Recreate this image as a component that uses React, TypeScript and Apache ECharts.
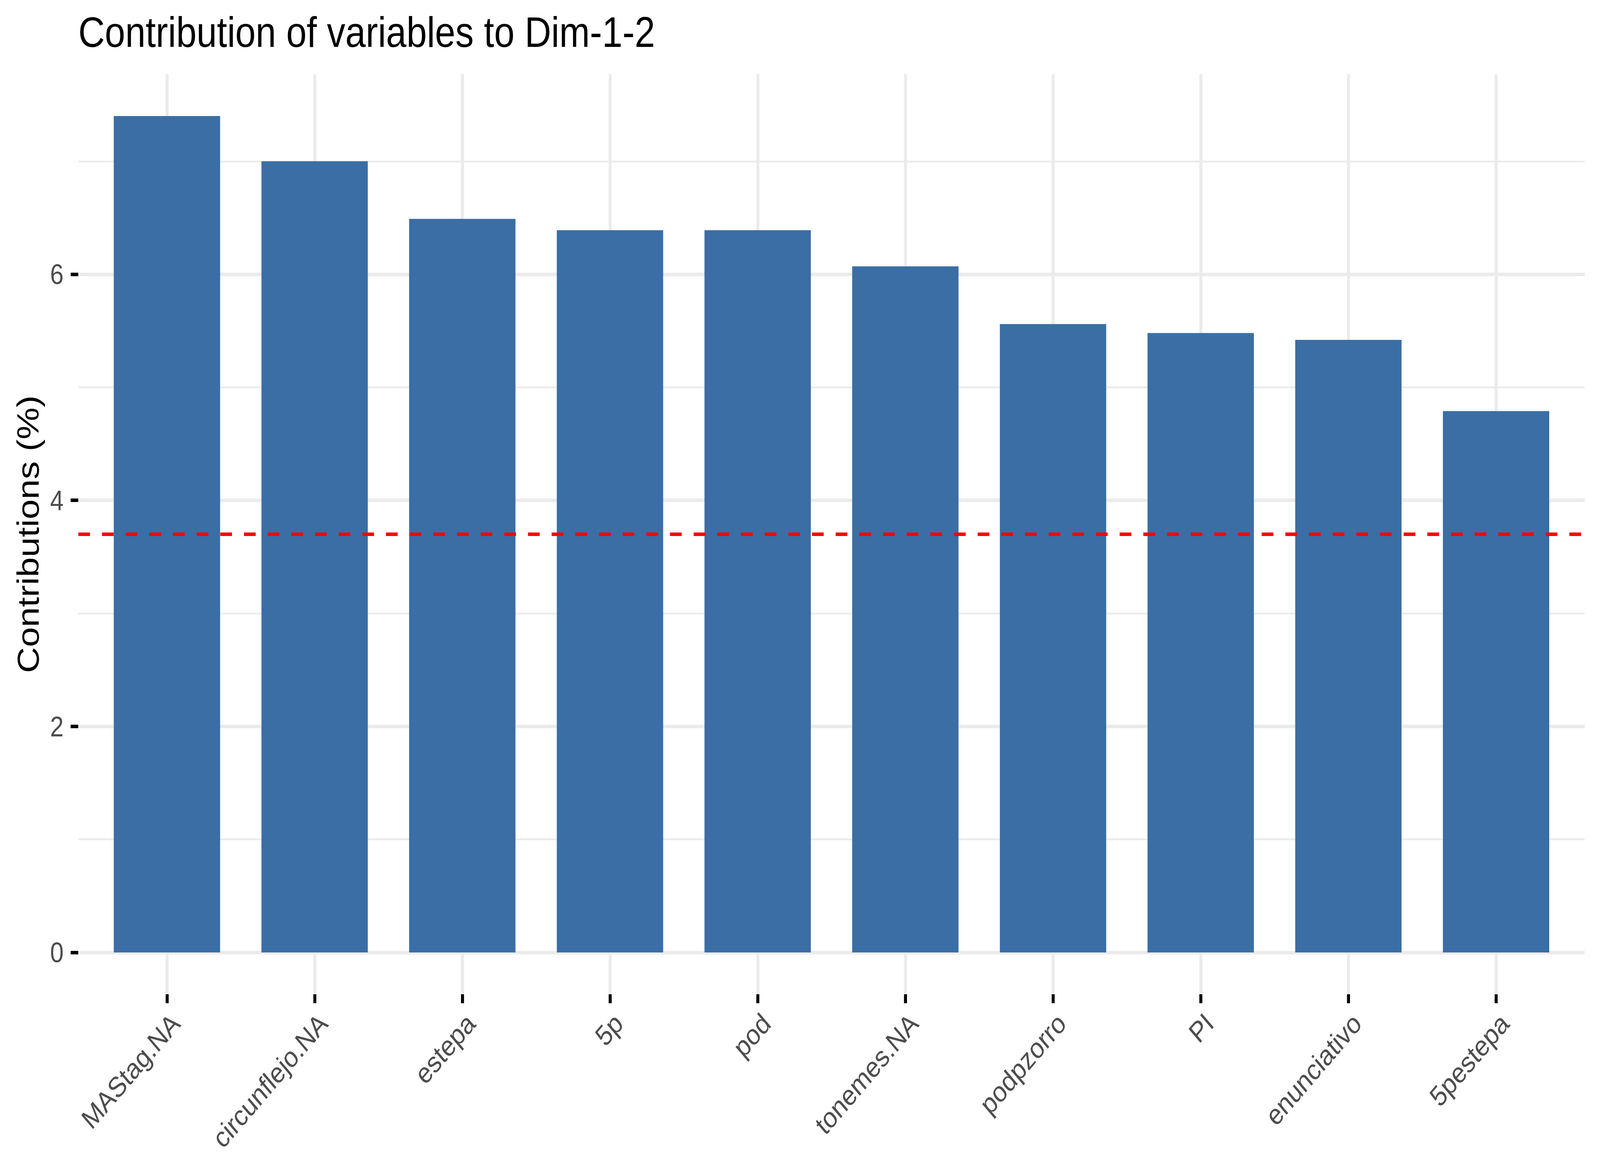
import React, { useEffect, useRef, useState } from "react";
import * as echarts from "echarts";

const categories = [
  "MAStag.NA",
  "circunflejo.NA",
  "estepa",
  "5p",
  "pod",
  "tonemes.NA",
  "podpzorro",
  "PI",
  "enunciativo",
  "5pestepa",
];
const contributions = [7.4, 7.0, 6.49, 6.39, 6.39, 6.07, 5.56, 5.48, 5.42, 4.79];
const expectedContribution = 3.7;
const yMajorTicks = [0, 2, 4, 6];
const yMinorTicks = [1, 3, 5, 7];
const titleText = "Contribution of variables to Dim-1-2";
const yAxisTitle = "Contributions (%)";

const FONT = "'Liberation Sans', Arial, Helvetica, sans-serif";
const BAR_COLOR = "#3A6EA5";
const GRID_COLOR = "#EBEBEB";

const DESIGN_W = 4800;
const DESIGN_H = 3000;

export default function App() {
  const ref = useRef<HTMLDivElement>(null);
  const [scale, setScale] = useState<[number, number]>(() => [
    Math.min(1, window.innerWidth / DESIGN_W),
    Math.min(1, window.innerHeight / DESIGN_H),
  ]);

  useEffect(() => {
    const onResize = () =>
      setScale([Math.min(1, window.innerWidth / DESIGN_W), Math.min(1, window.innerHeight / DESIGN_H)]);
    window.addEventListener("resize", onResize);
    return () => window.removeEventListener("resize", onResize);
  }, []);

  useEffect(() => {
    if (!ref.current) return;
    const chart = echarts.init(ref.current, undefined, { renderer: "svg" });

    const n = categories.length;
    const positions = categories.map((_, i) => i + 1);
    const maxVal = Math.max(...contributions);
    const yMax = maxVal * 1.05;
    const yMin = -maxVal * 0.05;

    const gridLines: any[] = [
      ...yMajorTicks.map((v) => ({ yAxis: v, lineStyle: { color: GRID_COLOR, width: 9, type: "solid" } })),
      ...yMinorTicks.map((v) => ({ yAxis: v, lineStyle: { color: GRID_COLOR, width: 4.5, type: "solid" } })),
      ...positions.map((v) => ({ xAxis: v, lineStyle: { color: GRID_COLOR, width: 9, type: "solid" } })),
    ];

    chart.setOption({
      animation: false,
      backgroundColor: "#FFFFFF",
      title: {
        text: titleText,
        left: 230,
        top: 22,
        textStyle: { fontFamily: FONT, fontSize: 110, fontWeight: "normal", color: "#000000" },
      },
      grid: { left: 235, right: 46, top: 190, bottom: 455, containLabel: false },
      xAxis: {
        type: "value",
        min: 1 - 0.6,
        max: n + 0.6,
        splitLine: { show: false },
        axisLine: { show: false, onZero: false },
        axisTick: {
          show: true,
          length: 23,
          customValues: positions,
          lineStyle: { color: "#000000", width: 9 },
        },
        axisLabel: {
          customValues: positions,
          formatter: (v: number) => categories[Math.round(v) - 1] ?? "",
          rotate: 45,
          align: "right",
          verticalAlign: "top",
          fontSize: 73,
          fontFamily: FONT,
          color: "#4D4D4D",
          margin: 36,
        },
      },
      yAxis: {
        type: "value",
        min: yMin,
        max: yMax,
        splitLine: { show: false },
        axisLine: { show: false, onZero: false },
        axisTick: {
          show: true,
          length: 23,
          customValues: yMajorTicks,
          lineStyle: { color: "#000000", width: 9 },
        },
        axisLabel: {
          customValues: yMajorTicks,
          fontSize: 73,
          fontFamily: FONT,
          color: "#4D4D4D",
          margin: 44,
        },
        name: yAxisTitle,
        nameLocation: "middle",
        nameRotate: 90,
        nameGap: 105,
        nameTextStyle: { fontSize: 92, fontFamily: FONT, color: "#000000" },
      },
      series: [
        {
          type: "line",
          data: [],
          z: 1,
          silent: true,
          markLine: {
            z: 1,
            silent: true,
            symbol: "none",
            animation: false,
            label: { show: false },
            data: gridLines,
          },
        },
        {
          type: "bar",
          z: 2,
          barWidth: 319,
          itemStyle: { color: BAR_COLOR },
          data: positions.map((p, i) => [p, contributions[i]]),
        },
        {
          type: "line",
          data: [],
          z: 5,
          silent: true,
          markLine: {
            z: 5,
            silent: true,
            symbol: "none",
            animation: false,
            label: { show: false },
            data: [
              { yAxis: expectedContribution, lineStyle: { color: "#FF0000", width: 9, type: [35, 36] } },
            ],
          },
        },
      ],
    });

    return () => chart.dispose();
  }, []);

  return (
    <div
      ref={ref}
      style={{
        position: "absolute",
        left: 0,
        top: 0,
        width: DESIGN_W,
        height: DESIGN_H,
        background: "#FFFFFF",
        transformOrigin: "0 0",
        transform: `scale(${scale[0]}, ${scale[1]})`,
      }}
    />
  );
}
